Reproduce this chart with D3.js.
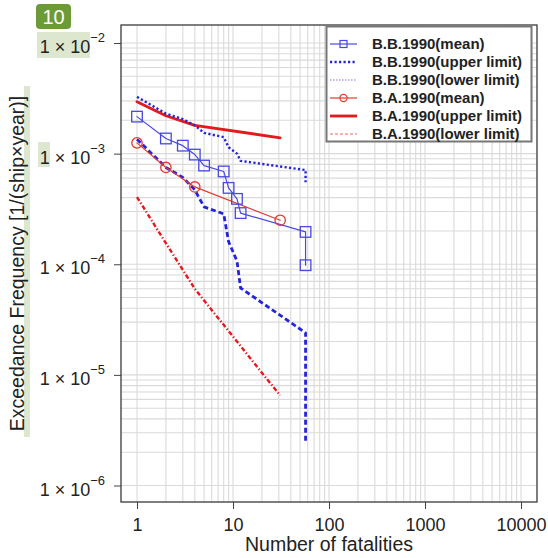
<!DOCTYPE html>
<html>
<head>
<meta charset="utf-8">
<script src="https://cdn.jsdelivr.net/npm/d3@7"></script>
<style>
  html, body { margin: 0; padding: 0; background: #fff; }
  svg { display: block; font-family: "Liberation Sans", Arial, Helvetica, sans-serif; }
</style>
</head>
<body>
<svg id="chart" width="548" height="558"></svg>
<script>
// ---- data ----
const xTicks = [1, 10, 100, 1000, 10000];
const yTicks = [1e-6, 1e-5, 1e-4, 1e-3, 1e-2];
const yTickExp = ["−6", "−5", "−4", "−3", "−2"];

// B.B.1990: fatalities and exceedance frequency (mean / confidence limits)
const bbFatal = [1, 2, 3, 4, 5, 8, 9, 11, 12, 57, 57];
const bbMean  = [2.16e-3, 1.37e-3, 1.18e-3, 9.8e-4, 7.8e-4, 6.9e-4, 4.9e-4, 3.9e-4, 2.9e-4, 1.96e-4, 9.8e-5];
const bbUpper = [3.26e-3, 2.3e-3, 2.05e-3, 1.8e-3, 1.54e-3, 1.41e-3, 1.14e-3, 1.0e-3, 8.6e-4, 7.1e-4, 5.5e-4];
const bbLower = [1.35e-3, 7.5e-4, 6.1e-4, 4.7e-4, 3.3e-4, 2.85e-4, 1.6e-4, 1.07e-4, 6.1e-5, 2.4e-5, 2.5e-6];

// B.A.1990
const baFatal = [1, 2, 4, 31];
const baMean  = [1.25e-3, 7.5e-4, 5.0e-4, 2.5e-4];
const baUpper = [2.95e-3, 2.2e-3, 1.8e-3, 1.39e-3];
const baLower = [4.05e-4, 1.55e-4, 6.0e-5, 6.5e-6];

const legendLabels = [
  "B.B.1990(mean)", "B.B.1990(upper limit)", "B.B.1990(lower limit)",
  "B.A.1990(mean)", "B.A.1990(upper limit)", "B.A.1990(lower limit)"
];

// ---- layout ----
const frame = { left: 121, right: 537, top: 25, bottom: 502 };
const svg = d3.select("#chart");

const x = d3.scaleLog().domain([1, 1e4]).range([137, 521]);
const y = d3.scaleLog().domain([1e-6, 1e-2]).range([485.5, 43]);

const BLUE = "#2424dc", BLUE_T = "#4848e2", BLUE_L = "#7a7aea";
const RED = "#e3191b", RED_T = "#e2392f", RED_L = "#ea6a66";

// ---- annotation highlights (behind text) ----
const hl = "#dde7cf";
svg.append("rect").attr("x", 37).attr("y", 32).attr("width", 53).attr("height", 26).attr("fill", hl);
svg.append("rect").attr("x", 38).attr("y", 142).attr("width", 12).attr("height", 25).attr("fill", hl);
svg.append("rect").attr("x", 24).attr("y", 86).attr("width", 6).attr("height", 351).attr("fill", hl);

// ---- grid ----
const gridX = [], gridY = [];
for (let e = 0; e < 4; e++) for (let m = 1; m <= 9; m++) gridX.push(m * Math.pow(10, e));
gridX.push(1e4);
for (let e = -6; e < -2; e++) for (let m = 1; m <= 9; m++) gridY.push(m * Math.pow(10, e));
gridY.push(1e-2);

const grid = svg.append("g").attr("stroke", "#dadada").attr("stroke-width", 1.1);
grid.selectAll("line.gx").data(gridX).join("line").attr("class", "gx")
  .attr("x1", d => x(d)).attr("x2", d => x(d))
  .attr("y1", frame.top).attr("y2", frame.bottom);
grid.selectAll("line.gy").data(gridY).join("line").attr("class", "gy")
  .attr("y1", d => y(d)).attr("y2", d => y(d))
  .attr("x1", frame.left).attr("x2", frame.right);

// ---- axes ----
const xAxis = svg.append("g").attr("transform", `translate(0,${frame.bottom})`)
  .call(d3.axisBottom(x).tickValues(xTicks).tickSize(7).tickPadding(9).tickFormat(d3.format("d")));
xAxis.select(".domain").remove();
xAxis.selectAll("line").attr("stroke", "#444");
xAxis.selectAll("text").attr("font-size", 18).attr("fill", "#222")
  .attr("font-family", "'Liberation Sans', Arial, sans-serif");

const yAxis = svg.append("g").attr("transform", `translate(${frame.left},0)`)
  .call(d3.axisLeft(y).tickValues(yTicks).tickSize(7).tickFormat(""));
yAxis.select(".domain").remove();
yAxis.selectAll("line").attr("stroke", "#444");

const yLab = svg.append("g").attr("fill", "#222").attr("font-size", 18);
yTicks.forEach((t, i) => {
  const txt = yLab.append("text").attr("x", 105).attr("y", y(t) + 10).attr("text-anchor", "end");
  txt.append("tspan").text("1 × 10");
  txt.append("tspan").attr("font-size", 13).attr("dy", -11).text(yTickExp[i]);
});

// frame
svg.append("rect").attr("x", frame.left).attr("y", frame.top)
  .attr("width", frame.right - frame.left).attr("height", frame.bottom - frame.top)
  .attr("fill", "none").attr("stroke", "#3a3a3a").attr("stroke-width", 1.3);

// axis titles
svg.append("text").attr("x", (frame.left + frame.right) / 2).attr("y", 551)
  .attr("text-anchor", "middle").attr("font-size", 19.5).attr("fill", "#222")
  .text("Number of fatalities");
svg.append("text").attr("transform", `translate(24,${(frame.top + frame.bottom) / 2}) rotate(-90)`)
  .attr("text-anchor", "middle").attr("font-size", 19.5).attr("fill", "#222")
  .text("Exceedance Frequency [1/(ship×year)]");

// ---- series ----
const plot = svg.append("g");
const line = d3.line().x(d => x(d[0])).y(d => y(d[1]));
const zip = (a, b) => a.map((v, i) => [v, b[i]]);

function path(data, color, width, dash) {
  plot.append("path").datum(data).attr("d", line).attr("fill", "none")
    .attr("stroke", color).attr("stroke-width", width)
    .attr("stroke-dasharray", dash || null)
    .attr("stroke-linejoin", "round").attr("stroke-linecap", dash ? "butt" : "round");
}

path(zip(baFatal, baUpper), RED, 2.8);
path(zip(baFatal, baLower), RED, 2.4, "4.5 2.2 1.3 2.2");
path(zip(bbFatal, bbUpper), BLUE, 2.4, "2.2 2.3");
path(zip(bbFatal, bbLower), BLUE, 2.8, "5 3");
path(zip(baFatal, baMean), RED_T, 1.2);
path(zip(bbFatal, bbMean), BLUE_T, 1.2);

plot.selectAll("rect.bb").data(zip(bbFatal, bbMean)).join("rect").attr("class", "bb")
  .attr("x", d => x(d[0]) - 5.3).attr("y", d => y(d[1]) - 5.3)
  .attr("width", 10.6).attr("height", 10.6)
  .attr("fill", "none").attr("stroke", BLUE_T).attr("stroke-width", 1.3);
plot.selectAll("circle.ba").data(zip(baFatal, baMean)).join("circle").attr("class", "ba")
  .attr("cx", d => x(d[0])).attr("cy", d => y(d[1])).attr("r", 5.2)
  .attr("fill", "none").attr("stroke", RED_T).attr("stroke-width", 1.3);

// ---- legend ----
const lg = svg.append("g");
lg.append("rect").attr("x", 326.5).attr("y", 26.5).attr("width", 205).attr("height", 115)
  .attr("fill", "#fff").attr("stroke", "#777").attr("stroke-width", 2);

const legendStyle = [
  { c: BLUE_T, w: 1.2, dash: null, mark: "square" },
  { c: BLUE, w: 2.4, dash: "2.2 2.3" },
  { c: BLUE_L, w: 1.1, dash: "1.5 1.5" },
  { c: RED_T, w: 1.2, dash: null, mark: "circle" },
  { c: RED, w: 2.8, dash: null },
  { c: RED_L, w: 1.1, dash: "3 2" }
];
legendLabels.forEach((lab, i) => {
  const cy = 44 + i * 18;
  const s = legendStyle[i];
  lg.append("line").attr("x1", 330).attr("x2", 357).attr("y1", cy).attr("y2", cy)
    .attr("stroke", s.c).attr("stroke-width", s.w).attr("stroke-dasharray", s.dash);
  if (s.mark === "square") {
    lg.append("rect").attr("x", 340).attr("y", cy - 3.5).attr("width", 7).attr("height", 7)
      .attr("fill", "none").attr("stroke", s.c).attr("stroke-width", 1.2);
  } else if (s.mark === "circle") {
    lg.append("circle").attr("cx", 343.5).attr("cy", cy).attr("r", 3.6)
      .attr("fill", "none").attr("stroke", s.c).attr("stroke-width", 1.2);
  }
  lg.append("text").attr("x", 372).attr("y", cy + 5).attr("font-size", 15)
    .attr("font-weight", "bold").attr("fill", "#222").text(lab);
});

// ---- badge ----
svg.append("rect").attr("x", 36).attr("y", 4).attr("width", 35).attr("height", 25).attr("rx", 4)
  .attr("fill", "#6b9a36");
svg.append("text").attr("x", 53.5).attr("y", 24).attr("text-anchor", "middle")
  .attr("font-size", 20).attr("fill", "#fff").text("10");
</script>
</body>
</html>
